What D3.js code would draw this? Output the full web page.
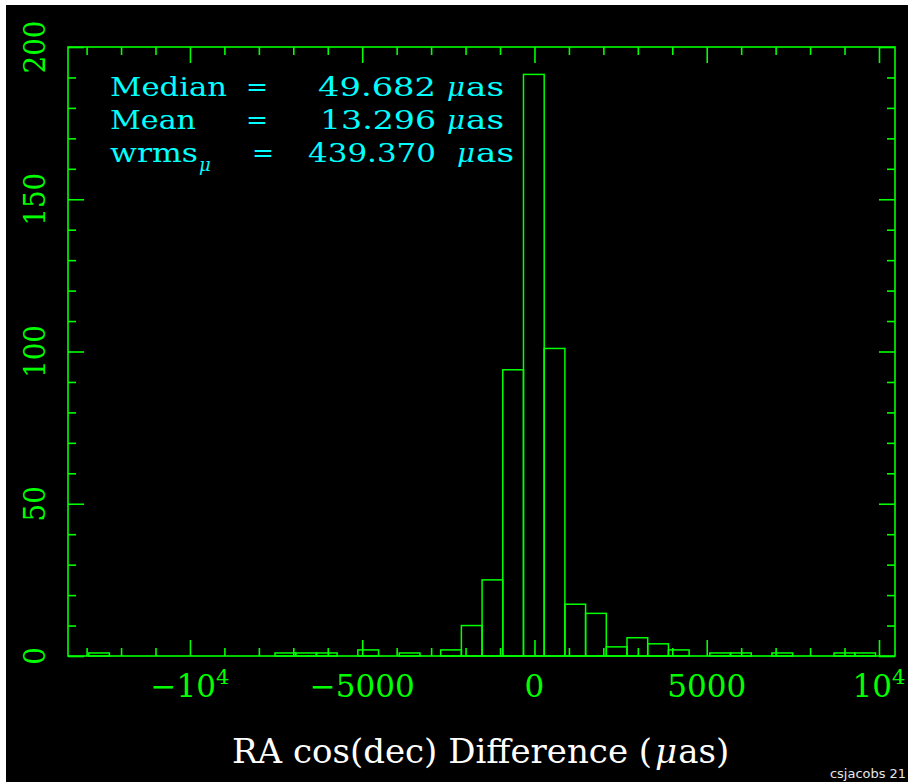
<!DOCTYPE html>
<html>
<head>
<meta charset="utf-8">
<script src="https://cdn.jsdelivr.net/npm/d3@7"></script>
<style>
  html, body { margin: 0; padding: 0; background: #ffffff; overflow: hidden; }
  svg { display: block; }
</style>
</head>
<body>
<svg id="chart" width="908" height="782"></svg>
<script>
// Histogram of RA cos(dec) differences between two catalogues (micro-arcseconds)
const binStart = -12940;          // left edge of first bin (µas)
const binWidth = 601;             // bin width (µas)
const binCounts = [
  1, 0, 0, 0, 0, 0, 0, 0, 0, 1,
  1, 1, 0, 2, 0, 1, 0, 2, 10, 25,
  94, 191, 101, 17, 14, 3, 6, 4, 2, 0,
  1, 1, 0, 1, 0, 0, 1, 1
];
const xDomain = [-13540, 10465];
const yDomain = [0, 200];
const xMajorTicks = [-10000, -5000, 0, 5000, 10000];
const xTickLabels = [["−10", "4"], ["−5000", ""], ["0", ""], ["5000", ""], ["10", "4"]];
const yMajorTicks = [0, 50, 100, 150, 200];
const yTickLabels = ["0", "50", "100", "150", "200"];
const statNames = ["Median", "Mean", "wrms"];
const statValues = ["49.682", "13.296", "439.370"];
const statUnit = "as";
const xTitleParts = ["RA cos(dec) Difference (", "μ", "as)"];
const credit = "csjacobs 21";

const GREEN = "#00ff00";
const CYAN = "#00ffff";
const SERIF = "'DejaVu Serif', 'Liberation Serif', serif";

const svg = d3.select("#chart");

// black plotting surface with a thin white margin top-left
svg.append("rect").attr("x", 6).attr("y", 5).attr("width", 902).attr("height", 777).attr("fill", "#000");

const frame = { left: 68, right: 895, top: 47, bottom: 656 };
const x = d3.scaleLinear().domain(xDomain).range([frame.left, frame.right]);
const y = d3.scaleLinear().domain(yDomain).range([frame.bottom, frame.top]);

// histogram bins drawn as open boxes
const bins = binCounts.map((c, i) => ({ x0: binStart + i * binWidth, x1: binStart + (i + 1) * binWidth, n: c }))
  .filter(b => b.n > 0);
svg.append("g").selectAll("rect").data(bins).join("rect")
  .attr("x", b => x(b.x0))
  .attr("width", b => x(b.x1) - x(b.x0))
  .attr("y", b => y(b.n))
  .attr("height", b => y(0) - y(b.n))
  .attr("fill", "none")
  .attr("stroke", GREEN)
  .attr("stroke-width", 1.5);

// inward ticks on all four sides
const xMinor = d3.range(-13000, 10001, 1000).filter(v => !xMajorTicks.includes(v));
const yMinor = d3.range(0, 201, 10).filter(v => !yMajorTicks.includes(v));

function tickAxis(axis, values, size, transform) {
  const g = svg.append("g").attr("transform", transform)
    .call(axis.tickValues(values).tickSize(size).tickSizeOuter(0).tickFormat(""));
  g.select(".domain").remove();
  g.selectAll("line").attr("stroke", GREEN).attr("stroke-width", 1.6);
}
tickAxis(d3.axisBottom(x), xMajorTicks, -16, `translate(0,${frame.bottom})`);
tickAxis(d3.axisBottom(x), xMinor, -8, `translate(0,${frame.bottom})`);
tickAxis(d3.axisTop(x), xMajorTicks, -16, `translate(0,${frame.top})`);
tickAxis(d3.axisTop(x), xMinor, -8, `translate(0,${frame.top})`);
tickAxis(d3.axisLeft(y), yMajorTicks, -16, `translate(${frame.left},0)`);
tickAxis(d3.axisLeft(y), yMinor, -8, `translate(${frame.left},0)`);
tickAxis(d3.axisRight(y), yMajorTicks, -16, `translate(${frame.right},0)`);
tickAxis(d3.axisRight(y), yMinor, -8, `translate(${frame.right},0)`);

// plot frame
svg.append("rect")
  .attr("x", frame.left).attr("y", frame.top)
  .attr("width", frame.right - frame.left).attr("height", frame.bottom - frame.top)
  .attr("fill", "none").attr("stroke", GREEN).attr("stroke-width", 1.6);

// x tick labels (powers of ten get a superscript exponent)
const xl = svg.append("g").attr("font-family", SERIF).attr("fill", GREEN);
xMajorTicks.forEach((v, i) => {
  const t = xl.append("text").attr("x", x(v)).attr("y", 697)
    .attr("text-anchor", "middle").attr("font-size", 31);
  t.append("tspan").text(xTickLabels[i][0]);
  if (xTickLabels[i][1]) {
    t.append("tspan").attr("font-size", 21).attr("dy", -13).text(xTickLabels[i][1]);
  }
});

// y tick labels, rotated to read upward
const yl = svg.append("g").attr("font-family", SERIF).attr("fill", GREEN);
yMajorTicks.forEach((v, i) => {
  yl.append("text")
    .attr("transform", `translate(45,${y(v)}) rotate(-90)`)
    .attr("text-anchor", "middle").attr("font-size", 30)
    .attr("textLength", yTickLabels[i].length * 17.7)
    .attr("lengthAdjust", "spacingAndGlyphs")
    .text(yTickLabels[i]);
});

// summary statistics block
const st = svg.append("g").attr("font-family", SERIF).attr("fill", CYAN).attr("font-size", 26);
function piece(g, str, px, py, len, italic) {
  const t = g.append("text").attr("x", px).attr("y", py).text(str);
  if (len) t.attr("textLength", len).attr("lengthAdjust", "spacingAndGlyphs");
  if (italic) t.attr("font-style", "italic");
  return t;
}
const nameLen = [117, 86, 88];
const eqX = [246, 246, 252];
const valX = [318, 320, 308];
const valLen = [118, 116, 128];
const unitX = [442, 442, 452];
const rowY = [96, 129, 162];
statNames.forEach((nm, i) => {
  piece(st, nm, 110, rowY[i], nameLen[i]);
  piece(st, "=", eqX[i], rowY[i], 22);
  piece(st, statValues[i], valX[i], rowY[i], valLen[i]);
  piece(st, "μ", unitX[i] + 5, rowY[i], 18, true);
  piece(st, statUnit, unitX[i] + 24, rowY[i], 38);
});
piece(st, "μ", 199, 171, null, true).attr("font-size", 18);

// x axis title: roman text with an italic mu, pieces placed end to end at natural width
const tg = svg.append("g").attr("font-family", SERIF).attr("font-size", 34).attr("fill", "#ffffff");
let cursor = 232;
xTitleParts.forEach((s, i) => {
  const t = piece(tg, s, cursor, 763, null, i === 1);
  cursor += t.node().getComputedTextLength() + (i === 0 ? 3 : 1);
});

// author stamp
svg.append("text").attr("x", 830).attr("y", 778)
  .attr("font-family", "'DejaVu Sans', sans-serif").attr("font-size", 12)
  .attr("fill", "#e6e6e6").attr("textLength", 76).attr("lengthAdjust", "spacingAndGlyphs")
  .text(credit);
</script>
</body>
</html>
